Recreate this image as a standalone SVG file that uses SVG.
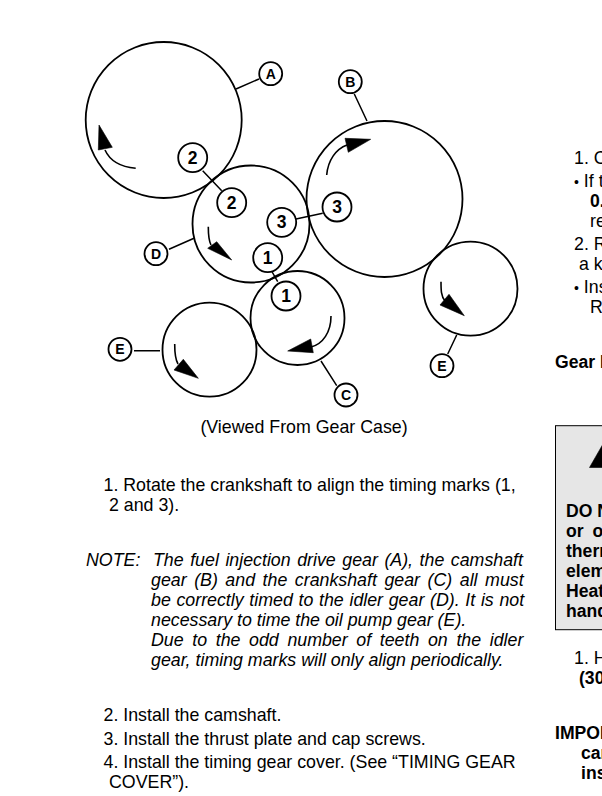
<svg xmlns="http://www.w3.org/2000/svg" width="602" height="796" viewBox="0 0 602 796">
<style>
text{font-family:"Liberation Sans",Arial,sans-serif;fill:#000}
.gear{fill:none;stroke:#000;stroke-width:1.8}
.c{fill:#fff;stroke:#000;stroke-width:1.8}
.lead{fill:none;stroke:#000;stroke-width:1.5}
.rot{fill:none;stroke:#000;stroke-width:1.6}
.head{fill:#000;stroke:#000;stroke-width:.6;stroke-linejoin:round}
.num{font-size:17.5px;font-weight:bold;text-anchor:middle}
.let{font-size:14px;font-weight:bold;text-anchor:middle}
.t{font-size:17.8px}
.i{font-size:17.8px;font-style:italic}
.b{font-size:17.6px;font-weight:bold}
.bu{font-size:14px}
</style>
<g id="connectors">
<path class="lead" d="M236 89L259 79M354.3 94L367 121M169 249.3L194 238.3M134 350.7H160M321 361L336.7 385.7M456.7 335L447.7 354M202.7 170.7L221.7 190.7M296 219L322.7 213.3M271 270L277.7 281.7"/>
</g>
<g id="gear-A"><circle class="gear" cx="163.7" cy="120" r="78"/><path class="rot" d="M135.7 168.3C121 167 110 161 105 150"/><path class="head" d="M99 125L98.3 150L112.3 147.3Z"/></g>
<g id="gear-D"><circle class="gear" cx="251" cy="224" r="58.5"/><path class="rot" d="M208.3 226.7C208.3 234 208.5 240 211 245"/><path class="head" d="M231.7 260L207.7 248.3L216.7 241.7Z"/></g>
<g id="gear-B"><circle class="gear" cx="384.5" cy="199" r="78"/><path class="rot" d="M326.7 175C328 160 336 149 347 145"/><path class="head" d="M370.7 139.3L345 138.3L348.3 152.3Z"/></g>
<g id="gear-E-right"><circle class="gear" cx="470.5" cy="288.7" r="47"/><path class="rot" d="M441 281.7C441 290 441 296 445 301"/><path class="head" d="M464.3 315.7L440 305L449 294.3Z"/></g>
<g id="gear-C"><circle class="gear" cx="297.5" cy="318" r="47"/><path class="rot" d="M331 316C331 332 323 344 311 347"/><path class="head" d="M287.7 351L310.7 339L313.3 352.7Z"/></g>
<g id="gear-E-left"><circle class="gear" cx="209.5" cy="349.7" r="47"/><path class="rot" d="M174.7 344C174.7 352 175 359 178 364"/><path class="head" d="M198.3 378.3L174 370L183.3 359.3Z"/></g>
<g id="mark-2a"><circle class="c" cx="192.7" cy="157.7" r="14.5"/><text class="num" x="192.7" y="163.7">2</text></g>
<g id="mark-2b"><circle class="c" cx="231.7" cy="202.7" r="14.5"/><text class="num" x="231.7" y="208.7">2</text></g>
<g id="mark-3a"><circle class="c" cx="281.7" cy="222.3" r="14.5"/><text class="num" x="281.7" y="228.3">3</text></g>
<g id="mark-3b"><circle class="c" cx="337" cy="207" r="14.5"/><text class="num" x="337" y="213">3</text></g>
<g id="mark-1a"><circle class="c" cx="267.7" cy="257.7" r="14.5"/><text class="num" x="267.7" y="263.7">1</text></g>
<g id="mark-1b"><circle class="c" cx="286" cy="296" r="14.5"/><text class="num" x="286" y="302">1</text></g>
<g id="label-A"><circle class="c" cx="270.7" cy="73.7" r="11.5"/><text class="let" x="270.7" y="78.7">A</text></g>
<g id="label-B"><circle class="c" cx="350.3" cy="81.7" r="11.5"/><text class="let" x="350.3" y="86.7">B</text></g>
<g id="label-D"><circle class="c" cx="156" cy="253.7" r="11.5"/><text class="let" x="156" y="258.7">D</text></g>
<g id="label-E-left"><circle class="c" cx="120" cy="349.3" r="11.5"/><text class="let" x="120" y="354.3">E</text></g>
<g id="label-C"><circle class="c" cx="346" cy="395" r="11.5"/><text class="let" x="346" y="400">C</text></g>
<g id="label-E-right"><circle class="c" cx="442" cy="365.7" r="11.5"/><text class="let" x="442" y="370.7">E</text></g>
<text class="t" x="304" y="433" text-anchor="middle">(Viewed From Gear Case)</text>
<text class="t" x="103.5" y="490.5">1. Rotate the crankshaft to align the timing marks (1,</text>
<text class="t" x="109" y="510.5">2 and 3).</text>
<text class="i" x="86" y="566.3">NOTE:</text>
<text class="i" x="153" y="566.3" word-spacing="1.6">The fuel injection drive gear (A), the camshaft</text>
<text class="i" x="151" y="586.3" word-spacing="2.6">gear (B) and the crankshaft gear (C) all must</text>
<text class="i" x="151" y="606.3" word-spacing=".75">be correctly timed to the idler gear (D). It is not</text>
<text class="i" x="151" y="626.3">necessary to time the oil pump gear (E).</text>
<text class="i" x="151" y="646.3" word-spacing="3.7">Due to the odd number of teeth on the idler</text>
<text class="i" x="151" y="666.3">gear, timing marks will only align periodically.</text>
<text class="t" x="103.5" y="721.3">2. Install the camshaft.</text>
<text class="t" x="103.5" y="745.3">3. Install the thrust plate and cap screws.</text>
<text class="t" x="103.5" y="768.3">4. Install the timing gear cover. (See “TIMING GEAR</text>
<text class="t" x="109" y="788.3">COVER”).</text>
<rect x="555.5" y="425.7" width="60" height="204" fill="#e6e6e6" stroke="#000" stroke-width="1"/>
<path class="head" d="M589.5 467.5L603 444V467.5Z"/>
<text class="t" x="574" y="164">1. C</text>
<text class="t" x="574" y="187"><tspan class="bu">•</tspan> If t</text>
<text class="b" x="590" y="207">0.</text>
<text class="t" x="590" y="227">re</text>
<text class="t" x="574" y="250">2. R</text>
<text class="t" x="579" y="270">a k</text>
<text class="t" x="574" y="293"><tspan class="bu">•</tspan> Ins</text>
<text class="t" x="590" y="313">R</text>
<text class="b" x="555" y="368">Gear I</text>
<text class="b" x="566" y="517">DO N</text>
<text class="b" x="566" y="537" word-spacing="4">or o</text>
<text class="b" x="566" y="557">therm</text>
<text class="b" x="566" y="577">elem</text>
<text class="b" x="566" y="597">Heat</text>
<text class="b" x="566" y="617">hand</text>
<text class="t" x="574" y="664">1. H</text>
<text class="b" x="579" y="684">(30</text>
<text class="b" x="555" y="739">IMPOR</text>
<text class="b" x="581" y="759">car</text>
<text class="b" x="581" y="779">ins</text>
</svg>
